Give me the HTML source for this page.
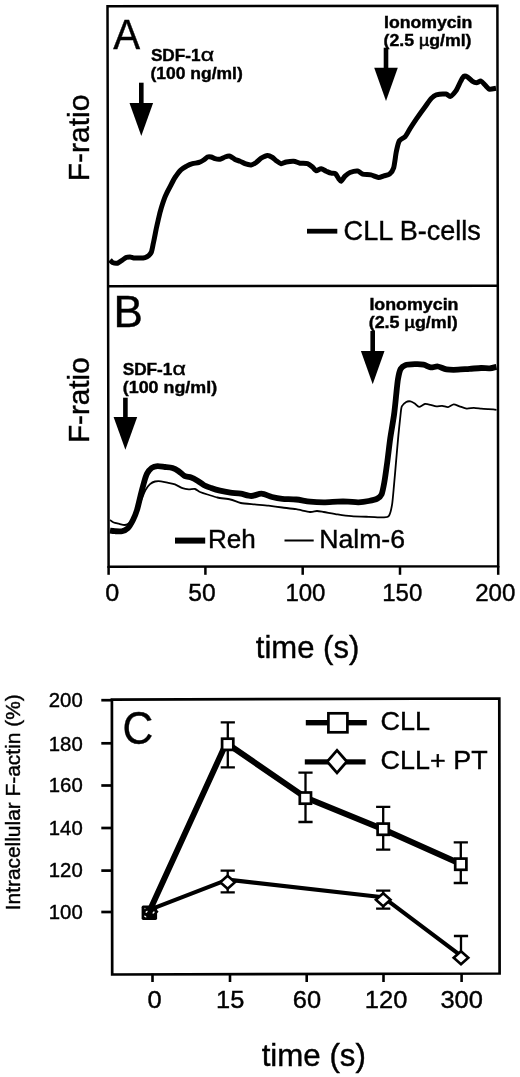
<!DOCTYPE html>
<html><head><meta charset="utf-8"><title>Figure</title>
<style>
html,body{margin:0;padding:0;background:#fff;}
body{width:520px;height:1077px;overflow:hidden;}
svg{display:block;will-change:transform;}
svg text{font-family:"Liberation Sans",sans-serif;fill:#000;stroke:#000;stroke-width:0.4px;}
</style></head><body>
<svg width="520" height="1077" viewBox="0 0 520 1077">
<rect width="520" height="1077" fill="#fff"/>
<path d="M107.5,6.3 L497.4,5.7 L498.2,566.2 L108.6,566.8 Z" fill="none" stroke="#000" stroke-width="2.5"/>
<path d="M107.9,286.3 L497.6,285.7" stroke="#000" stroke-width="2.5"/>
<path d="M108.6,566 V574.8" stroke="#000" stroke-width="2.5"/>
<path d="M205.4,566 V574.8" stroke="#000" stroke-width="2.5"/>
<path d="M302.7,566 V574.8" stroke="#000" stroke-width="2.5"/>
<path d="M400,566 V574.8" stroke="#000" stroke-width="2.5"/>
<path d="M498.2,566 V574.8" stroke="#000" stroke-width="2.5"/>
<text x="105.2" y="600.8" font-size="23" text-anchor="start" textLength="14" lengthAdjust="spacingAndGlyphs" >0</text>
<text x="188.2" y="600.8" font-size="23" text-anchor="start" textLength="27.4" lengthAdjust="spacingAndGlyphs" >50</text>
<text x="285.4" y="600.8" font-size="23" text-anchor="start" textLength="40.1" lengthAdjust="spacingAndGlyphs" >100</text>
<text x="382.2" y="600.8" font-size="23" text-anchor="start" textLength="40.1" lengthAdjust="spacingAndGlyphs" >150</text>
<text x="475.2" y="600.8" font-size="23" text-anchor="start" textLength="40.2" lengthAdjust="spacingAndGlyphs" >200</text>
<text x="255.8" y="657.6" font-size="30.5" text-anchor="start" textLength="103.5" lengthAdjust="spacingAndGlyphs" >time (s)</text>
<text x="113.3" y="49.2" font-size="43.4" text-anchor="start" textLength="26.9" lengthAdjust="spacingAndGlyphs" stroke-width="0.9">A</text>
<text x="113.5" y="327.4" font-size="44" text-anchor="start" stroke-width="0.9">B</text>
<text x="122.6" y="744" font-size="46.8" text-anchor="start" textLength="30.8" lengthAdjust="spacingAndGlyphs" stroke-width="0.9">C</text>
<text transform="translate(89.3,181.3) rotate(-90)" font-size="29.6" stroke-width="0.6" textLength="86.7" lengthAdjust="spacingAndGlyphs">F-ratio</text>
<text transform="translate(89.2,443.1) rotate(-90)" font-size="29.6" stroke-width="0.6" textLength="85.8" lengthAdjust="spacingAndGlyphs">F-ratio</text>
<text x="150.9" y="60.9" font-size="16.2" text-anchor="start" font-weight="bold" textLength="49.7" lengthAdjust="spacingAndGlyphs" >SDF-1</text>
<text x="200.8" y="60.9" font-size="18" text-anchor="start" textLength="13.4" lengthAdjust="spacingAndGlyphs" stroke-width="0.7">α</text>
<text x="150.5" y="78.5" font-size="16.2" text-anchor="start" font-weight="bold" textLength="92.2" lengthAdjust="spacingAndGlyphs" >(100 ng/ml)</text>
<text x="384" y="27.7" font-size="16.2" text-anchor="start" font-weight="bold" textLength="88.3" lengthAdjust="spacingAndGlyphs" >Ionomycin</text>
<text x="383.5" y="45.5" font-size="16.2" text-anchor="start" font-weight="bold" textLength="88" lengthAdjust="spacingAndGlyphs" >(2.5 <tspan font-weight="normal" stroke-width="0.7">µ</tspan>g/ml)</text>
<text x="122.7" y="375.4" font-size="16.2" text-anchor="start" font-weight="bold" textLength="49.7" lengthAdjust="spacingAndGlyphs" >SDF-1</text>
<text x="172.6" y="375.4" font-size="18" text-anchor="start" textLength="13.4" lengthAdjust="spacingAndGlyphs" stroke-width="0.7">α</text>
<text x="122.8" y="393.4" font-size="16.2" text-anchor="start" font-weight="bold" textLength="94.3" lengthAdjust="spacingAndGlyphs" >(100 ng/ml)</text>
<text x="369.4" y="309.8" font-size="16.2" text-anchor="start" font-weight="bold" textLength="89.1" lengthAdjust="spacingAndGlyphs" >Ionomycin</text>
<text x="368.7" y="328" font-size="16.2" text-anchor="start" font-weight="bold" textLength="89" lengthAdjust="spacingAndGlyphs" >(2.5 <tspan font-weight="normal" stroke-width="0.7">µ</tspan>g/ml)</text>
<rect x="139.0" y="82.7" width="4.6" height="21.4" fill="#000"/><polygon points="129.5,103.1 153.1,103.1 141.3,135.9" fill="#000"/>
<rect x="383.7" y="47.7" width="4.6" height="21.0" fill="#000"/><polygon points="374.2,67.7 397.8,67.7 386.0,100.9" fill="#000"/>
<rect x="123.1" y="397.7" width="4.6" height="20.3" fill="#000"/><polygon points="113.6,417.0 137.2,417.0 125.4,449.8" fill="#000"/>
<rect x="370.4" y="331.0" width="4.6" height="21.0" fill="#000"/><polygon points="360.9,351.0 384.5,351.0 372.7,384.2" fill="#000"/>
<path d="M110.0,260.0C110.3,260.3 111.6,262.1 112.5,262.5C113.4,262.9 116.3,263.5 117.5,263.2C118.7,262.9 121.5,260.7 122.5,260.0C123.5,259.3 125.1,257.9 126.0,257.5C126.9,257.1 129.1,257.0 130.0,257.0C130.9,257.0 132.5,257.8 133.7,257.9C134.9,258.0 138.6,258.0 140.0,258.0C141.4,258.0 144.0,257.9 145.0,257.6C146.0,257.3 147.9,256.3 148.7,255.6C149.5,254.9 150.8,253.6 151.4,252.0C152.0,250.4 152.9,245.1 153.5,242.5C154.1,239.9 155.4,233.0 156.0,230.0C156.6,227.0 158.2,220.2 158.8,217.5C159.4,214.8 160.6,210.1 161.4,207.5C162.2,204.9 164.2,198.8 165.3,196.2C166.4,193.6 169.1,188.4 170.3,186.2C171.5,184.0 173.7,179.4 175.0,177.5C176.3,175.6 179.4,171.4 180.8,170.0C182.2,168.6 185.2,167.0 186.6,166.2C188.0,165.4 191.0,164.1 192.5,163.7C194.0,163.3 197.4,162.9 198.7,162.5C200.0,162.1 202.6,160.7 203.7,160.0C204.8,159.3 206.6,157.4 207.5,157.0C208.4,156.6 210.3,156.8 211.2,157.0C212.1,157.2 213.9,158.4 215.0,158.7C216.1,159.0 218.8,159.4 220.0,159.2C221.2,159.0 223.8,157.4 225.0,157.0C226.2,156.6 228.8,155.9 230.0,156.2C231.2,156.5 233.8,158.9 235.0,159.5C236.2,160.1 238.8,160.7 240.0,161.2C241.2,161.7 243.7,163.2 245.0,163.7C246.3,164.2 249.9,165.1 251.2,165.0C252.5,164.9 255.0,163.3 256.2,162.5C257.4,161.7 259.8,159.0 261.2,158.2C262.6,157.4 266.1,155.6 267.5,155.5C268.9,155.4 271.5,156.9 272.5,157.5C273.5,158.1 275.2,160.0 276.2,160.7C277.2,161.4 280.0,163.5 281.2,163.7C282.4,163.9 284.7,162.3 286.2,162.0C287.7,161.7 292.0,161.1 293.7,161.2C295.4,161.3 298.3,162.9 300.0,163.2C301.7,163.5 306.0,163.2 307.5,163.7C309.0,164.2 311.5,166.2 312.5,167.0C313.5,167.8 315.2,170.5 316.2,170.7C317.2,170.9 320.0,168.6 321.2,168.7C322.4,168.8 325.0,170.7 326.2,171.2C327.4,171.7 330.1,172.9 331.2,173.2C332.3,173.5 334.6,173.0 335.5,173.7C336.4,174.4 338.0,177.8 338.7,178.7C339.4,179.6 340.4,181.5 341.2,181.2C342.0,180.9 343.9,177.2 345.0,176.2C346.1,175.2 348.5,173.1 350.0,172.5C351.5,171.9 356.3,170.8 357.8,171.0C359.3,171.2 361.1,173.7 362.7,174.2C364.3,174.7 369.0,174.5 370.9,174.9C372.8,175.3 376.8,177.4 378.4,177.5C380.0,177.6 382.6,176.3 383.9,175.9C385.2,175.5 388.3,175.2 389.5,174.2C390.7,173.2 392.9,170.4 393.7,167.7C394.5,165.0 395.7,154.5 396.4,151.3C397.1,148.1 398.2,142.7 399.3,140.9C400.4,139.1 403.9,138.1 405.2,136.6C406.5,135.1 408.7,130.7 410.1,128.5C411.5,126.3 414.8,121.2 416.6,118.6C418.4,116.0 423.0,109.6 424.8,107.2C426.6,104.8 429.9,99.9 431.3,98.4C432.7,96.9 434.4,95.3 436.2,94.8C438.0,94.3 444.3,93.9 446.0,94.1C447.7,94.3 449.1,96.8 450.3,96.4C451.5,96.0 454.6,92.7 455.9,90.9C457.2,89.1 459.8,82.9 460.8,81.1C461.8,79.3 463.2,76.7 464.0,76.2C464.8,75.7 466.3,76.2 467.3,76.8C468.3,77.4 471.1,80.4 472.2,81.1C473.3,81.8 475.4,82.7 476.5,82.7C477.6,82.7 479.9,80.8 481.0,81.1C482.1,81.4 484.3,84.3 485.3,85.3C486.3,86.3 488.2,88.9 489.5,89.2C490.8,89.5 495.2,88.3 496.0,88.2" fill="none" stroke="#000" stroke-width="5" stroke-linejoin="round" stroke-linecap="butt"/>
<path d="M110.0,520.0C110.4,520.3 112.7,522.1 113.7,522.5C114.7,522.9 117.4,523.4 118.7,523.7C120.0,524.0 123.7,525.1 125.0,525.0C126.3,524.9 128.9,523.4 130.0,522.5C131.1,521.6 133.4,519.1 134.3,517.5C135.2,515.9 137.1,510.9 138.0,508.7C138.9,506.5 140.9,500.9 141.8,498.7C142.7,496.5 144.5,491.7 145.5,490.0C146.5,488.3 148.9,485.2 150.0,484.2C151.1,483.2 153.7,481.8 155.0,481.5C156.3,481.2 159.5,481.2 161.0,481.3C162.5,481.4 165.9,482.2 167.5,482.6C169.1,483.0 173.2,483.7 175.0,484.4C176.8,485.1 180.9,487.6 182.5,488.2C184.1,488.8 187.2,489.3 188.7,489.4C190.2,489.5 193.7,488.7 195.0,489.0C196.3,489.3 198.5,491.4 200.0,492.0C201.5,492.6 205.5,493.9 207.5,494.5C209.5,495.1 214.8,496.9 217.5,497.5C220.2,498.1 227.7,498.9 230.4,499.5C233.1,500.1 238.0,502.4 240.8,503.0C243.6,503.6 251.4,504.1 254.6,504.4C257.8,504.7 265.3,505.2 268.5,505.6C271.7,506.0 279.1,507.1 282.3,507.5C285.5,507.9 293.0,508.7 296.2,509.2C299.4,509.7 307.6,511.8 310.0,512.0C312.4,512.2 315.4,511.0 317.0,511.0C318.6,511.0 321.4,511.6 323.8,512.0C326.2,512.4 334.5,513.9 337.7,514.4C340.9,514.9 347.9,515.9 351.5,516.2C355.1,516.5 365.1,516.7 368.8,516.8C372.5,516.9 380.7,517.5 383.0,517.4C385.3,517.3 387.7,517.5 388.8,516.0C389.9,514.5 391.5,508.1 392.1,504.4C392.7,500.7 393.6,489.3 394.1,484.2C394.6,479.1 395.6,466.8 396.1,461.1C396.6,455.4 397.9,440.6 398.4,435.2C398.9,429.8 400.1,418.4 400.5,415.0C400.9,411.6 401.1,407.8 401.8,406.3C402.5,404.8 405.2,402.6 406.2,402.0C407.2,401.4 409.5,401.2 410.5,401.4C411.5,401.6 413.8,402.9 414.8,403.5C415.8,404.1 417.9,406.8 419.1,406.9C420.3,407.0 423.5,404.2 424.9,404.0C426.3,403.8 429.4,404.6 430.7,404.9C432.0,405.2 435.1,406.2 436.4,406.3C437.7,406.4 440.8,405.7 442.2,405.8C443.6,405.9 446.7,407.4 448.0,407.2C449.3,407.0 452.4,404.4 453.7,404.3C455.0,404.2 458.0,405.8 459.5,406.3C461.0,406.8 465.0,408.5 466.7,408.7C468.4,408.9 472.2,407.8 473.9,407.8C475.6,407.8 479.4,408.5 481.1,408.7C482.8,408.9 486.6,409.1 488.4,409.2C490.2,409.3 495.6,409.7 496.5,409.8" fill="none" stroke="#000" stroke-width="1.8" stroke-linejoin="round"/>
<path d="M110.0,530.6C110.7,530.7 113.4,531.1 115.0,531.2C116.6,531.3 120.3,531.6 122.0,531.2C123.7,530.8 126.3,529.7 127.8,528.2C129.3,526.7 131.8,522.4 133.0,520.0C134.2,517.6 136.0,513.3 137.0,510.0C138.0,506.7 139.8,498.7 140.7,495.0C141.6,491.3 143.2,485.3 144.0,482.5C144.8,479.7 146.0,475.6 147.0,473.7C148.0,471.8 150.2,469.0 151.6,468.0C153.0,467.0 155.7,466.3 157.5,466.2C159.3,466.1 163.0,466.8 165.0,467.0C167.0,467.2 170.7,467.4 172.5,468.0C174.3,468.6 177.0,470.1 178.7,471.2C180.4,472.3 183.3,475.4 185.0,476.2C186.7,477.0 189.5,476.9 191.2,477.5C192.9,478.1 195.8,479.7 197.5,480.7C199.2,481.7 201.9,484.0 203.7,485.0C205.5,486.0 209.0,487.2 211.2,488.0C213.4,488.8 217.4,490.1 220.0,490.7C222.6,491.3 227.6,492.2 230.4,492.6C233.2,493.0 238.0,493.2 240.8,493.7C243.6,494.2 248.4,496.0 251.2,496.0C254.0,496.0 258.7,493.6 261.5,493.7C264.3,493.8 269.2,496.3 272.0,497.0C274.8,497.7 279.1,498.5 282.3,498.8C285.5,499.1 292.5,499.1 296.2,499.5C299.9,499.9 306.3,501.2 310.0,501.6C313.7,502.0 320.1,502.3 323.8,502.3C327.5,502.3 334.5,501.7 337.7,501.6C340.9,501.5 345.2,501.5 348.0,501.6C350.8,501.7 355.7,502.4 358.5,502.3C361.3,502.2 366.2,501.5 368.7,501.0C371.2,500.5 375.6,499.5 377.3,498.6C379.0,497.7 380.6,496.6 381.6,494.3C382.6,492.0 383.7,485.7 384.5,481.3C385.3,476.9 386.6,466.9 387.4,461.1C388.2,455.3 389.4,444.1 390.3,438.0C391.2,431.9 393.2,420.8 394.0,415.0C394.8,409.2 395.7,399.6 396.2,394.8C396.7,390.0 397.4,382.4 398.0,379.0C398.6,375.6 399.6,370.8 400.6,369.0C401.6,367.2 403.3,365.8 405.2,365.2C407.1,364.6 412.4,364.3 414.8,364.2C417.2,364.1 421.4,364.2 423.5,364.6C425.6,365.0 428.8,367.1 430.7,367.4C432.6,367.7 435.8,366.2 437.9,366.5C440.0,366.8 443.8,369.0 446.5,369.4C449.2,369.8 454.9,369.8 458.0,369.7C461.1,369.6 466.5,369.0 469.6,368.8C472.7,368.6 478.4,368.1 481.1,368.0C483.8,367.9 487.7,368.5 489.8,368.3C491.9,368.1 495.6,367.0 496.5,366.8" fill="none" stroke="#000" stroke-width="5.8" stroke-linejoin="round"/>
<rect x="307" y="228.8" width="30.3" height="4.8" fill="#000"/>
<text x="343.6" y="239.7" font-size="27.2" text-anchor="start" textLength="137.3" lengthAdjust="spacingAndGlyphs" >CLL B-cells</text>
<rect x="175" y="537.6" width="30.2" height="6" fill="#000"/>
<text x="208" y="548.3" font-size="25" text-anchor="start" textLength="47.8" lengthAdjust="spacingAndGlyphs" >Reh</text>
<rect x="284.5" y="539.5" width="29.2" height="2" fill="#000"/>
<text x="319.2" y="548.4" font-size="25" text-anchor="start" textLength="85.8" lengthAdjust="spacingAndGlyphs" >Nalm-6</text>
<path d="M111.9,699.6 L499.3,698.5 L499.6,973.5 L112.2,974.5 Z" fill="none" stroke="#000" stroke-width="2.7"/>
<path d="M101.3,700.2 H112.3" stroke="#000" stroke-width="2.7"/>
<text x="48.8" y="706.8000000000001" font-size="19.5" text-anchor="start" textLength="33.9" lengthAdjust="spacingAndGlyphs" >200</text>
<path d="M101.3,743.3 H112.3" stroke="#000" stroke-width="2.7"/>
<text x="48.8" y="750.6" font-size="19.5" text-anchor="start" textLength="33.9" lengthAdjust="spacingAndGlyphs" >180</text>
<path d="M101.3,785.5 H112.3" stroke="#000" stroke-width="2.7"/>
<text x="48.8" y="791.7" font-size="19.5" text-anchor="start" textLength="33.9" lengthAdjust="spacingAndGlyphs" >160</text>
<path d="M101.3,828 H112.3" stroke="#000" stroke-width="2.7"/>
<text x="48.8" y="834.6" font-size="19.5" text-anchor="start" textLength="33.9" lengthAdjust="spacingAndGlyphs" >140</text>
<path d="M101.3,870.6 H112.3" stroke="#000" stroke-width="2.7"/>
<text x="48.8" y="877.2" font-size="19.5" text-anchor="start" textLength="33.9" lengthAdjust="spacingAndGlyphs" >120</text>
<path d="M101.3,912 H112.3" stroke="#000" stroke-width="2.7"/>
<text x="48.8" y="918.6" font-size="19.5" text-anchor="start" textLength="33.9" lengthAdjust="spacingAndGlyphs" >100</text>
<path d="M152.5,973.7 V982" stroke="#000" stroke-width="2.6"/>
<path d="M230,973.7 V982" stroke="#000" stroke-width="2.6"/>
<path d="M306.7,973.7 V982" stroke="#000" stroke-width="2.6"/>
<path d="M383.5,973.7 V982" stroke="#000" stroke-width="2.6"/>
<path d="M461.6,973.7 V982" stroke="#000" stroke-width="2.6"/>
<text x="147.5" y="1008.4" font-size="24" text-anchor="start" textLength="14.2" lengthAdjust="spacingAndGlyphs" >0</text>
<text x="216.1" y="1008.4" font-size="24" text-anchor="start" textLength="28.3" lengthAdjust="spacingAndGlyphs" >15</text>
<text x="292.8" y="1008.4" font-size="24" text-anchor="start" textLength="28.3" lengthAdjust="spacingAndGlyphs" >60</text>
<text x="364.8" y="1008.4" font-size="24" text-anchor="start" textLength="42.5" lengthAdjust="spacingAndGlyphs" >120</text>
<text x="440.4" y="1008.4" font-size="24" text-anchor="start" textLength="42.5" lengthAdjust="spacingAndGlyphs" >300</text>
<text x="261.7" y="1065.7" font-size="30.8" text-anchor="start" textLength="104.2" lengthAdjust="spacingAndGlyphs" >time (s)</text>
<text transform="translate(19.5,910.3) rotate(-90)" font-size="20.2" textLength="216" lengthAdjust="spacingAndGlyphs">Intracellular F-actin (%)</text>
<polyline points="149.3,909.8 227.6,879.6 383.0,897.2 460.8,955.6" fill="none" stroke="#000" stroke-width="4.1" stroke-linejoin="round"/>
<polyline points="148.6,913.0 226.3,743.0 305.4,797.4 383.1,829.3 460.8,864.0" fill="none" stroke="#000" stroke-width="5.9" stroke-linejoin="round"/>
<path d="M227.8,722.3V767.4M220.7,722.3H234.9M220.7,767.4H234.9" stroke="#000" stroke-width="2.3" fill="none"/>
<path d="M305.5,772.6V822.0M298.4,772.6H312.6M298.4,822.0H312.6" stroke="#000" stroke-width="2.3" fill="none"/>
<path d="M383.2,806.9V849.6M376.1,806.9H390.3M376.1,849.6H390.3" stroke="#000" stroke-width="2.3" fill="none"/>
<path d="M460.8,842.4V883.0M453.7,842.4H467.9M453.7,883.0H467.9" stroke="#000" stroke-width="2.3" fill="none"/>
<path d="M227.7,870.6V892.3M220.6,870.6H234.8M220.6,892.3H234.8" stroke="#000" stroke-width="2.3" fill="none"/>
<path d="M383.2,890.7V908.6M376.1,890.7H390.3M376.1,908.6H390.3" stroke="#000" stroke-width="2.3" fill="none"/>
<path d="M461.0,936.0V957.0M453.9,936.0H468.1" stroke="#000" stroke-width="2.3" fill="none"/>
<rect x="222.1" y="738.7" width="11.2" height="11.2" fill="#fff" stroke="#000" stroke-width="2.7"/>
<rect x="299.8" y="792.5" width="11.2" height="11.2" fill="#fff" stroke="#000" stroke-width="2.7"/>
<rect x="377.6" y="823.6" width="11.2" height="11.2" fill="#fff" stroke="#000" stroke-width="2.7"/>
<rect x="455.2" y="858.6" width="11.2" height="11.2" fill="#fff" stroke="#000" stroke-width="2.7"/>
<polygon points="220.3,882.2 227.6,875.7 234.9,882.2 227.6,888.7" fill="#fff" stroke="#000" stroke-width="2.6"/>
<polygon points="375.9,899.8 383.2,893.3 390.5,899.8 383.2,906.3" fill="#fff" stroke="#000" stroke-width="2.6"/>
<polygon points="453.7,957.7 461.0,951.2 468.3,957.7 461.0,964.2" fill="#fff" stroke="#000" stroke-width="2.6"/>
<rect x="141.6" y="905.6" width="15.5" height="14.3" rx="1.6" fill="#000"/>
<polygon points="156.8,909.8 158.6,911.8 156.8,913.6" fill="#000"/>
<ellipse cx="146.6" cy="911.8" rx="1.3" ry="0.8" transform="rotate(-48 146.6 911.8)" fill="#fff"/>
<ellipse cx="153.6" cy="912.6" rx="1.4" ry="0.8" transform="rotate(-52 153.6 912.6)" fill="#fff"/>
<ellipse cx="145.3" cy="916.5" rx="1.3" ry="0.75" transform="rotate(35 145.3 916.5)" fill="#fff"/>
<ellipse cx="144.9" cy="908.5" rx="0.9" ry="0.7" fill="#777"/>
<rect x="305.8" y="720" width="61" height="5.4" fill="#000"/>
<rect x="328.4" y="713.3" width="19" height="19" fill="#fff" stroke="#000" stroke-width="2.7"/>
<rect x="304.8" y="759.3" width="60.8" height="5.2" fill="#000"/>
<polygon points="327.2,761.6 337.0,750.4 346.8,761.6 337.0,772.8" fill="#fff" stroke="#000" stroke-width="2.8"/>
<text x="380.6" y="730.3" font-size="26" text-anchor="start" textLength="49.5" lengthAdjust="spacingAndGlyphs" >CLL</text>
<text x="380.6" y="769.4" font-size="26" text-anchor="start" textLength="107" lengthAdjust="spacingAndGlyphs" >CLL+ PT</text>
</svg>
</body></html>
